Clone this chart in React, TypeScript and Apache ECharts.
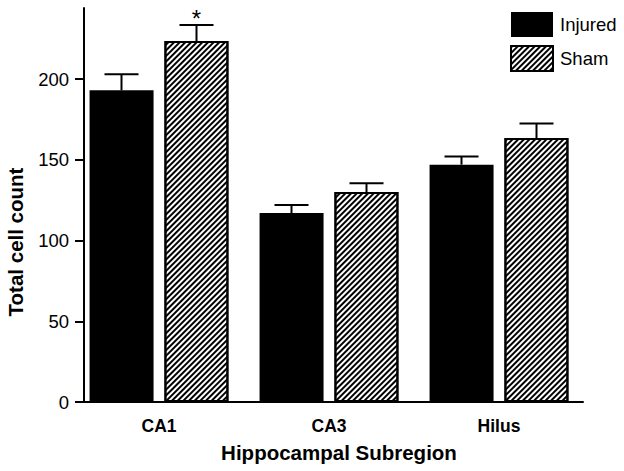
import React, { useEffect, useRef } from "react";
import * as echarts from "echarts";

const categories = ["CA1", "CA3", "Hilus"];
const injuredValues = [193, 117, 147];
const injuredErrTop = [203, 122, 152];
const shamValues = [223.5, 130, 163.5];
const shamErrTop = [233.5, 135.5, 172.5];
const shamMarks = ["*", "", ""];
const yTicks = [0, 50, 100, 150, 200];
const Y_MAX = 244;

const FONT = "'Liberation Sans', Arial, Helvetica, sans-serif";

export default function App() {
  const ref = useRef<HTMLDivElement>(null);
  useEffect(() => {
    if (!ref.current) return;
    const chart = echarts.init(ref.current, null, { renderer: "svg" });
    const barW = 64;
    const half = 37.5;
    const errSeries = (name: string, tops: number[], vals: number[], offset: number, marks?: string[]) => ({
      type: "custom",
      name,
      xAxisIndex: 0,
      yAxisIndex: 0,
      silent: true,
      z: 5,
      data: categories.map((_, i) => [i, vals[i], tops[i], marks ? marks[i] : ""]),
      encode: { x: 0, y: [1, 2] },
      renderItem: (params: any, api: any) => {
        const i = api.value(0);
        const p0 = api.coord([i, api.value(1)]);
        const p1 = api.coord([i, api.value(2)]);
        const x = p0[0] + offset;
        const mark = marks ? marks[i] : "";
        const children: any[] = [
          { type: "line", shape: { x1: x, y1: p0[1], x2: x, y2: p1[1] }, style: { stroke: "#000", lineWidth: 2 } },
          { type: "line", shape: { x1: x - 17, y1: p1[1], x2: x + 17, y2: p1[1] }, style: { stroke: "#000", lineWidth: 2 } },
        ];
        if (mark) {
          children.push({
            type: "text",
            x: x,
            y: p1[1] + 6,
            style: { text: mark, fill: "#000", font: `24px ${FONT}`, align: "center", verticalAlign: "bottom" },
          });
        }
        return { type: "group", children };
      },
    });
    chart.setOption({
      animation: false,
      backgroundColor: "#fff",
      textStyle: { fontFamily: FONT },
      legend: {
        orient: "vertical",
        left: 505,
        top: 7,
        itemWidth: 42,
        itemHeight: 25,
        itemGap: 8,
        icon: "rect",
        data: ["Injured", "Sham"],
        textStyle: { fontSize: 18.5, color: "#000", fontFamily: FONT, padding: [0, 0, 0, 2] },
      },
      grid: [
        { left: 74, right: 40, top: 8, bottom: 69 },
        { left: 84, right: 41, top: 8, bottom: 69 },
      ],
      xAxis: [
        {
          type: "category",
          gridIndex: 0,
          data: categories,
          axisLine: { show: false },
          axisTick: { show: false },
          axisLabel: { fontSize: 17.5, fontWeight: "bold", color: "#000", margin: 15, fontFamily: FONT },
        },
        {
          type: "value",
          gridIndex: 1,
          min: 0,
          max: 1,
          axisLine: { show: true, onZero: false, lineStyle: { color: "#000", width: 2 } },
          axisTick: { show: false },
          axisLabel: { show: false },
          splitLine: { show: false },
        },
      ],
      yAxis: [
        { type: "value", gridIndex: 0, min: 0, max: Y_MAX, show: false, splitLine: { show: false } },
        {
          type: "value",
          gridIndex: 1,
          min: 0,
          max: Y_MAX,
          interval: 50,
          axisLine: { show: true, lineStyle: { color: "#000", width: 2 } },
          axisTick: { show: true, length: 9, lineStyle: { color: "#000", width: 2 }, customValues: yTicks },
          axisLabel: { fontSize: 18.5, color: "#000", margin: 15, fontFamily: FONT, customValues: yTicks },
          splitLine: { show: false },
        },
      ],
      series: [
        {
          name: "Injured",
          type: "bar",
          xAxisIndex: 0,
          yAxisIndex: 0,
          data: injuredValues,
          barWidth: barW,
          barGap: "17%",
          itemStyle: { color: "#000" },
        },
        {
          name: "Sham",
          type: "bar",
          xAxisIndex: 0,
          yAxisIndex: 0,
          data: shamValues,
          barWidth: barW,
          itemStyle: {
            color: "#fff",
            borderColor: "#000",
            borderWidth: 2,
            decal: {
              symbol: "rect",
              symbolSize: 1,
              color: "#000",
              dashArrayX: [1, 0],
              dashArrayY: [2, 2],
              rotation: -Math.PI / 4,
            },
          },
        },
        errSeries("errInjured", injuredErrTop, injuredValues, -half),
        errSeries("errSham", shamErrTop, shamValues, half, shamMarks),
      ],
      graphic: [
        {
          type: "text",
          x: 15,
          y: 242,
          rotation: Math.PI / 2,
          style: {
            text: "Total cell count",
            font: `bold 20.5px ${FONT}`,
            fill: "#000",
            align: "center",
            verticalAlign: "middle",
          },
        },
        {
          type: "text",
          x: 339,
          y: 452,
          style: {
            text: "Hippocampal Subregion",
            font: `bold 20.5px ${FONT}`,
            fill: "#000",
            align: "center",
            verticalAlign: "middle",
          },
        },
      ],
    });
    return () => chart.dispose();
  }, []);
  return <div ref={ref} style={{ width: 624, height: 471, position: "absolute", left: 0, top: 0 }} />;
}
